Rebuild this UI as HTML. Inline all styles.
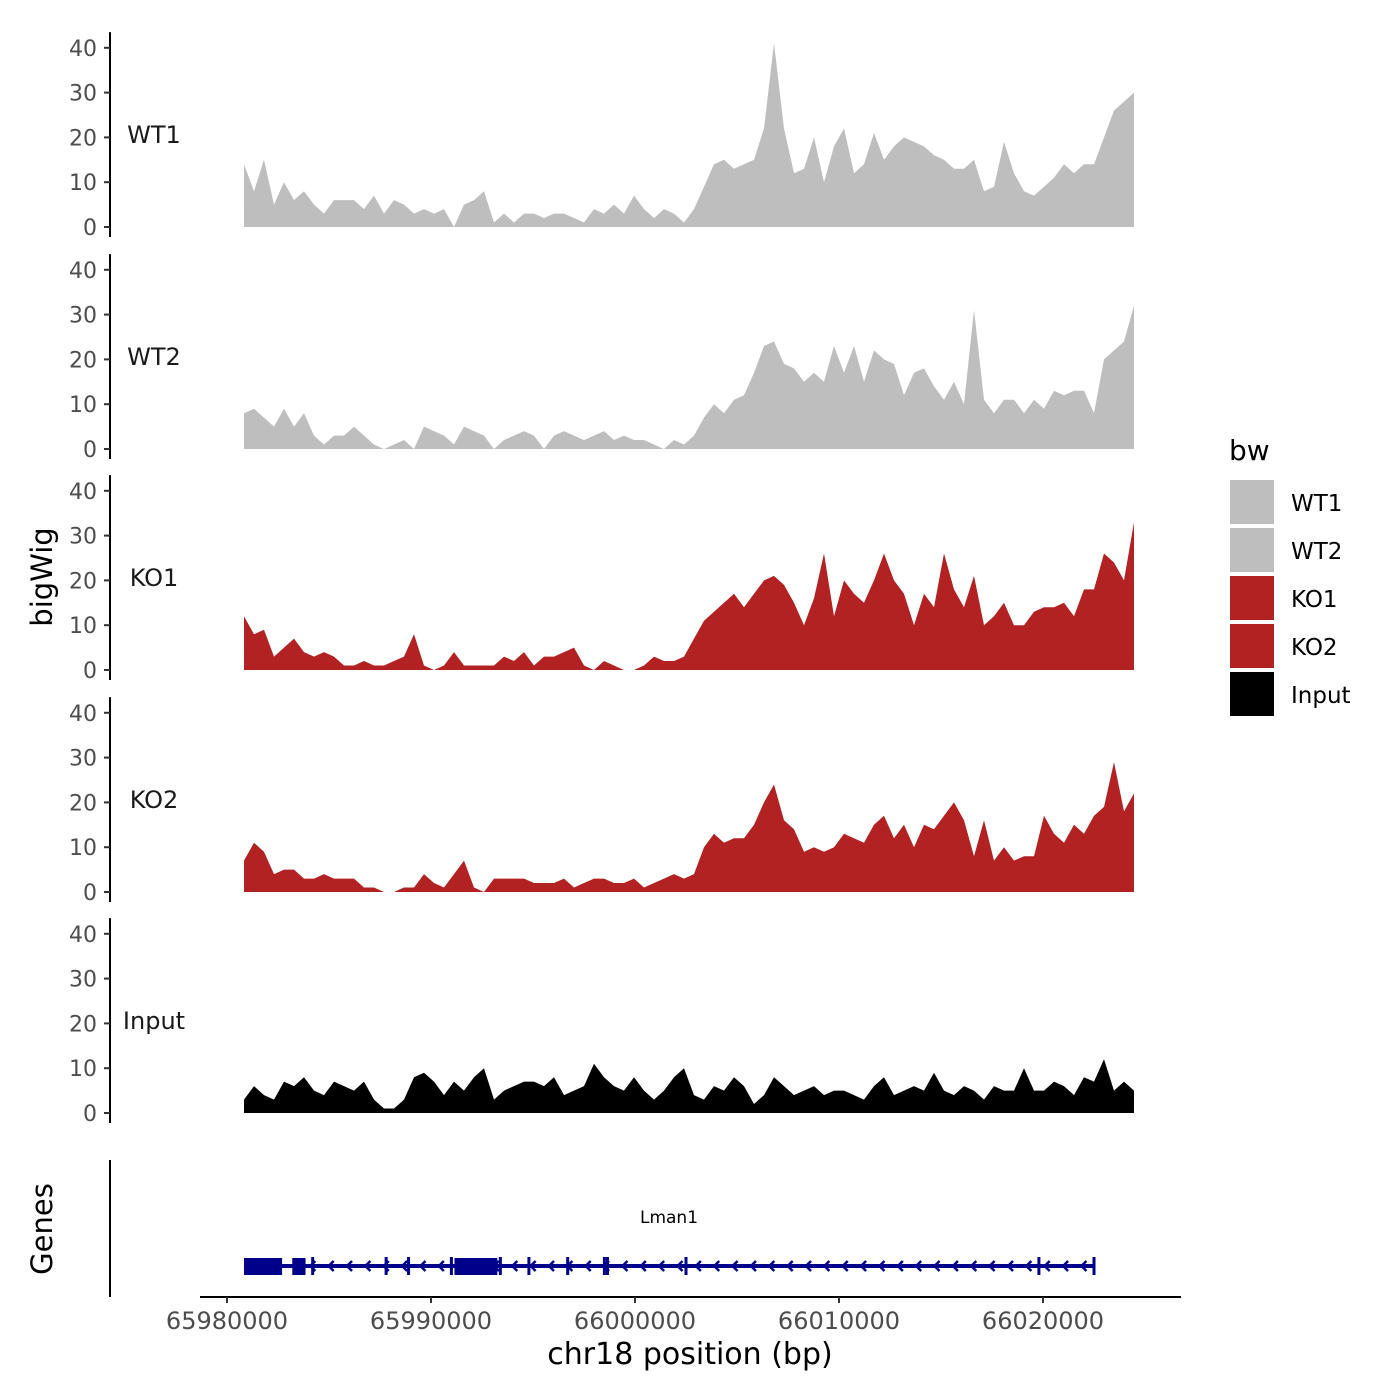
<!DOCTYPE html>
<html><head><meta charset="utf-8"><style>
html,body{margin:0;padding:0;background:#fff;}
svg{display:block;font-family:"DejaVu Sans","Liberation Sans",sans-serif;}
</style></head><body>
<svg id="chart" width="1400" height="1400" viewBox="0 0 1400 1400"></svg>
<script>
// ---- data ----
const trackNames = ["WT1","WT2","KO1","KO2","Input"];
const trackColors = ["#bebebe","#bebebe","#b22222","#b22222","#000000"];
const yTicks = [0,10,20,30,40];
const xTicks = [65980000,65990000,66000000,66010000,66020000];
const wt1 = [14,8,15,5,10,6,8,5,3,6, 6,6,4,7,3,6,5,3,4,3, 4,0,5,6,8,1,3,1,3,3, 2,3,3,2,1,4,3,5,3,7, 4,2,4,3,1,4,9,14,15,13, 14,15,22,41,22,12,13,20,10,18, 22,12,14,21,15,18,20,19,18,16, 15,13,13,15,8,9,19,12,8,7, 9,11,14,12,14,14,20,26,28,30];
const wt2 = [8,9,7,5,9,5,8,3,1,3, 3,5,3,1,0,1,2,0,5,4, 3,1,5,4,3,0,2,3,4,3, 0,3,4,3,2,3,4,2,3,2, 2,1,0,2,1,3,7,10,8,11, 12,17,23,24,19,18,15,17,15,23, 17,23,15,22,20,19,12,17,18,14, 11,15,10,31,11,8,11,11,8,11, 9,13,12,13,13,8,20,22,24,32];
const ko1 = [12,8,9,3,5,7,4,3,4,3, 1,1,2,1,1,2,3,8,1,0, 1,4,1,1,1,1,3,2,4,1, 3,3,4,5,1,0,2,1,0,0, 1,3,2,2,3,7,11,13,15,17, 14,17,20,21,19,15,10,16,26,12, 20,17,15,20,26,20,17,10,17,14, 26,18,14,21,10,12,15,10,10,13, 14,14,15,12,18,18,26,24,20,33];
const ko2 = [7,11,9,4,5,5,3,3,4,3, 3,3,1,1,0,0,1,1,4,2, 1,4,7,1,0,3,3,3,3,2, 2,2,3,1,2,3,3,2,2,3, 1,2,3,4,3,4,10,13,11,12, 12,15,20,24,16,14,9,10,9,10, 13,12,11,15,17,12,15,10,15,14, 17,20,16,8,16,7,10,7,8,8, 17,13,11,15,13,17,19,29,18,22];
const input = [3,6,4,3,7,6,8,5,4,7, 6,5,7,3,1,1,3,8,9,7, 4,7,5,8,10,3,5,6,7,7, 6,8,4,5,6,11,8,6,5,8, 5,3,5,8,10,4,3,6,5,8, 6,2,4,8,6,4,5,6,4,5, 5,4,3,6,8,4,5,6,5,9, 5,4,6,5,3,6,5,5,10,5, 5,7,6,4,8,7,12,5,7,5];
const trackData = [wt1,wt2,ko1,ko2,input];
const dataStartBp = 65980833, dataEndBp = 66024460;
// gene model (bp)
const geneStart = 65980833, geneEnd = 66022500;
const exonStarts = [65980833,65983200,65991150];
const exonEnds   = [65982700,65983850,65993250];
const smallExons = [65984200,65987800,65988900,65991000,65993400,65994800,65996700,65998500,65998650,66002500,66019800,66022500];

const NS="http://www.w3.org/2000/svg";
const svg=document.getElementById('chart');
function el(t,a,p){const e=document.createElementNS(NS,t);for(const k in a)e.setAttribute(k,a[k]);(p||svg).appendChild(e);return e;}
function xScale(bp){return 227+(bp-65980000)*(816/40000);}
const zeroY=[227,449,670,892,1113];
const pxPerUnit=4.48;
function yScale(v,t){return zeroY[t]-v*pxPerUnit;}

trackNames.forEach((name,t)=>{
  const g=el('g',{});
  
  
  const d=trackData[t];
  const step=(dataEndBp-dataStartBp)/(d.length-1);
  let path='M'+xScale(dataStartBp)+','+zeroY[t];
  d.forEach((v,i)=>{path+=' L'+xScale(dataStartBp+i*step).toFixed(1)+','+yScale(v,t).toFixed(1);});
  path+=' L'+xScale(dataEndBp)+','+zeroY[t]+' Z';
  const a=el('path',{d:path,fill:trackColors[t]},g);
  
  
  const ax=el('line',{x1:110,x2:110,y1:yScale(43.5,t),y2:zeroY[t]+10,stroke:'#000','stroke-width':2},g);
  
  
  yTicks.forEach(v=>{
    const y=yScale(v,t);
    el('line',{x1:104,x2:110,y1:y,y2:y,stroke:'#333','stroke-width':2},g);
    const tx=el('text',{x:97,y:y+8,'text-anchor':'end','font-size':22,fill:'#4d4d4d'},g);
    tx.textContent=v;
    
    
  });
  const lb=el('text',{x:154,y:zeroY[t]-84,'text-anchor':'middle','font-size':24,fill:'#1a1a1a'},g);
  lb.textContent=name;
  
  
});

// genes panel
const gg=el('g',{});


el('line',{x1:110,x2:110,y1:1160,y2:1297,stroke:'#000','stroke-width':2},gg);
el('line',{x1:xScale(geneStart),x2:xScale(geneEnd),y1:1266,y2:1266,stroke:'#00008b','stroke-width':4},gg);
for(let bp=geneStart+600;bp<geneEnd-200;bp+=900){
  const x=xScale(bp);
  el('polyline',{points:(x+4)+',1261 '+(x-1)+',1266 '+(x+4)+',1271',fill:'none',stroke:'#00008b','stroke-width':2.5},gg);
}
exonStarts.forEach((s,i)=>{
  const r=el('rect',{x:xScale(s),y:1258,width:xScale(exonEnds[i])-xScale(s),height:17,fill:'#00008b'},gg);
  
  
});
smallExons.forEach(bp=>{
  const x=xScale(bp);
  el('rect',{x:x-1.5,y:1257,width:3,height:18,fill:'#00008b'},gg);
});
const gl=el('text',{x:669,y:1223,'text-anchor':'middle','font-size':17,fill:'#000'},gg);
gl.textContent='Lman1';



// x axis
const xa=el('g',{});


el('line',{x1:200,x2:1181,y1:1297,y2:1297,stroke:'#000','stroke-width':2},xa);
xTicks.forEach(v=>{
  const x=xScale(v);
  el('line',{x1:x,x2:x,y1:1297,y2:1303,stroke:'#333','stroke-width':2},xa);
  const t=el('text',{x:x,y:1329,'text-anchor':'middle','font-size':24,fill:'#4d4d4d'},xa);
  t.textContent=v;
  
  
});
const xt=el('text',{x:690,y:1364,'text-anchor':'middle','font-size':30,fill:'#000'});
xt.textContent='chr18 position (bp)';


const yt=el('text',{x:0,y:0,'text-anchor':'middle','font-size':29,fill:'#000',transform:'translate(52,577) rotate(-90)'});
yt.textContent='bigWig';


const gt=el('text',{x:0,y:0,'text-anchor':'middle','font-size':29,fill:'#000',transform:'translate(52,1229) rotate(-90)'});
gt.textContent='Genes';



// legend
const lg=el('g',{});


const ltt=el('text',{x:1229,y:460,'font-size':28,fill:'#000'},lg);
ltt.textContent='bw';
trackNames.forEach((n,i)=>{
  const y=480+i*48;
  const r=el('rect',{x:1230,y:y,width:44,height:44,fill:trackColors[i]},lg);
  
  
  const t=el('text',{x:1291,y:y+31,'font-size':23,fill:'#000'},lg);
  t.textContent=n;
  
  
});
</script>
</body></html>
